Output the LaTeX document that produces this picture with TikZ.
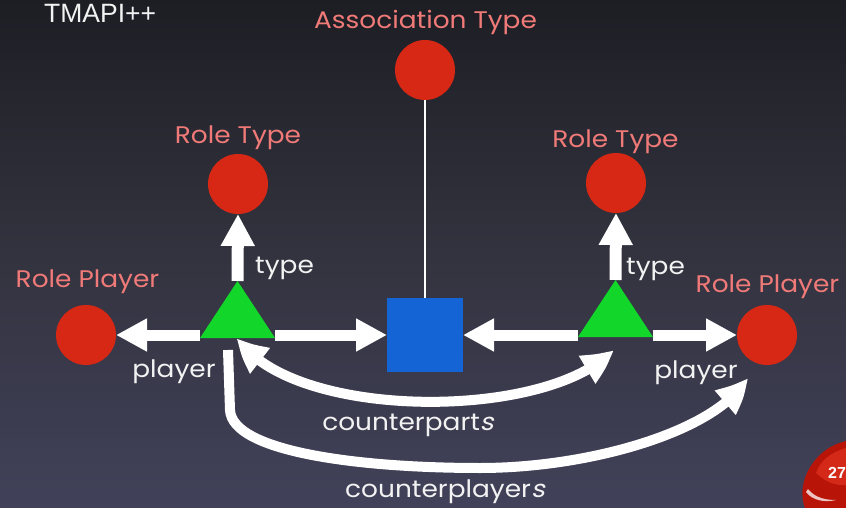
\documentclass[tikz,border=0pt]{standalone}
\usepackage{fontspec}
\setmainfont[FakeStretch=1.1]{Poppins}
\newfontfamily\headfont{Liberation Sans}
\newfontfamily\slantfont[FakeStretch=1.1,FakeSlant=0.22]{Poppins}
\usetikzlibrary{arrows.meta,bending}

\definecolor{bgtop}{HTML}{1D1E24}
\definecolor{bgmid}{HTML}{33333F}
\definecolor{bgbot}{HTML}{41415A}
\definecolor{dotred}{HTML}{D62814}
\definecolor{trigreen}{HTML}{12D62A}
\definecolor{sqblue}{HTML}{1464D6}
\definecolor{salmon}{HTML}{F07A78}
\definecolor{lbltext}{HTML}{F2F2F2}
\definecolor{gemred}{HTML}{B81408}
\definecolor{gemlight}{HTML}{D42818}

\tikzset{
  bighead/.tip={Triangle[length=31pt,width=31pt,bend]},
  dot/.style={circle, fill=dotred, minimum size=60pt, inner sep=0pt, outer sep=0pt},
  sqbox/.style={rectangle, fill=sqblue, minimum width=76pt, minimum height=74pt, inner sep=0pt, outer sep=0pt},
  tribox/.style={rectangle, minimum width=75pt, minimum height=57pt, inner sep=0pt, outer sep=0pt},
  fat/.style={draw=white, line width=11pt, -{Triangle[length=31pt,width=31pt]}},
  fatup/.style={draw=white, line width=12pt, -{Triangle[length=32pt,width=32pt]}},
  thinline/.style={draw=white, line width=2pt},
  curvy/.style={draw=white, line width=10pt},
  hlabel/.style={text=salmon, font=\fontsize{24}{28}\selectfont, inner sep=0pt},
  wlabel/.style={text=lbltext, font=\fontsize{24}{28}\selectfont, inner sep=0pt},
}

\begin{document}
\begin{tikzpicture}[x=1pt,y=-1pt]
  % slide background
  \shade[top color=bgtop, bottom color=bgbot, middle color=bgmid] (0,0) rectangle (846,508);
  \useasboundingbox (0,0) rectangle (846,508);

  % title
  \node[anchor=base west, inner sep=0pt, text=lbltext, font=\headfont\fontsize{26.5}{28}\selectfont] (title) at (44,23) {TMAPI++};

  % topic nodes
  \node[dot] (at) at (425,70) {};
  \node[dot] (lrt) at (238,184) {};
  \node[dot] (rrt) at (616,183) {};
  \node[dot] (lrp) at (86,335) {};
  \node[dot] (rrp) at (767,335) {};
  \node[sqbox] (sq) at (425,335) {};
  \node[tribox] (lt) at (237.5,309.5) {};
  \node[tribox] (rt) at (615.5,308.5) {};

  % free ends of the curved connectors
  \coordinate (cpend) at (613,350);
  \coordinate (cqstart) at (228,350);
  \coordinate (cqend) at (747,378);

  % straight connectors
  \draw[thinline] (at.south) -- (sq.north);
  \draw[fat] (lt.south west |- lrp.center) -- (lrp.east);
  \draw[fat] (lt.south east |- sq.center) -- (sq.west);
  \draw[fat] (rt.south west |- sq.center) -- (sq.east);
  \draw[fat] (rt.south east |- rrp.center) -- (rrp.west);
  \draw[fatup] (lt.north) -- (lrt.south);
  \draw[fatup] (rt.north) -- (rrt.south);

  % role triangles
  \fill[trigreen] (lt.south west) -- (lt.south east) -- (lt.north) -- cycle;
  \fill[trigreen] (rt.south west) -- (rt.south east) -- (rt.north) -- cycle;

  % curved connectors
  \draw[curvy, bighead-bighead] (lt.south) .. controls (292,421) and (548,421) .. (cpend);
  \draw[curvy, -bighead] (cqstart) -- (230,410) .. controls (232,452) and (360,468) .. (480,468)
        .. controls (590,468) and (718,431) .. (cqend);

  % labels
  \node[hlabel, anchor=base] (latl) at (425.5,29) {Association Type};
  \node[hlabel, anchor=base] (lrtl) at (238,143) {Role Type};
  \node[hlabel, anchor=base] (rrtl) at (615.5,147) {Role Type};
  \node[hlabel, anchor=base] (lrpl) at (87.5,287) {Role Player};
  \node[hlabel, anchor=base] (rrpl) at (767.5,292) {Role Player};
  \node[wlabel, anchor=base west] (ltyp) at (255,273) {type};
  \node[wlabel, anchor=base west] (rtyp) at (626,274) {type};
  \node[wlabel, anchor=base] (lply) at (174,377) {player};
  \node[wlabel, anchor=base] (rply) at (696,378) {player};
  \node[wlabel, anchor=base] (cpl) at (408,430) {counterpart{\slantfont s}};
  \node[wlabel, anchor=base] (cql) at (445,497) {counterplayer{\slantfont s}};

  % page badge
  \fill[gemred] (846,441) .. controls (825,446) and (811,461) .. (805,478)
        .. controls (801,490) and (802,500) .. (805,508) -- (846,508) -- cycle;
  \fill[gemlight] (846,448) .. controls (831,452) and (820,461) .. (816,473)
        .. controls (826,483) and (838,486) .. (846,485) -- cycle;
  \fill[white, opacity=0.75] (806,492) .. controls (812,500) and (824,503) .. (836,500)
        .. controls (826,500) and (815,498) .. (808,489) -- cycle;
  \node[anchor=base west, inner sep=0pt, text=white, font=\headfont\bfseries\fontsize{16}{16}\selectfont] (pg) at (828,478) {27};
\end{tikzpicture}
\end{document}
